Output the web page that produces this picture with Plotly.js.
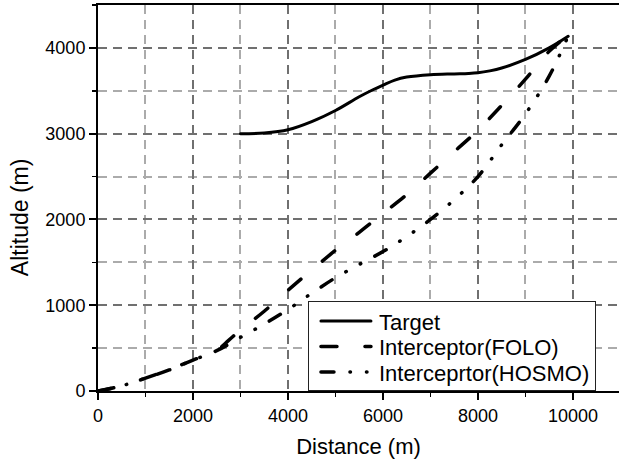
<!DOCTYPE html>
<html>
<head>
<meta charset="utf-8">
<script src="https://cdn.plot.ly/plotly-3.0.1.min.js"></script>
<style>
html,body{margin:0;padding:0;background:#fff;}
#chart{width:619px;height:463px;}
#chart path.js-line{stroke-linecap:round;stroke-linejoin:round;}
</style>
</head>
<body>
<div id="chart"></div>
<script>
// Data
const seriesNames = ["Target", "Interceptor(FOLO)", "Interceprtor(HOSMO)"];

const targetX = [3000,3500,4000,4500,5000,5500,5800,6000,6250,6500,7000,7500,7800,8000,8250,8500,9000,9500,9900];
const targetY = [3000,3008,3045,3140,3270,3430,3515,3565,3625,3660,3688,3697,3702,3710,3732,3765,3865,4000,4135];

const foloX = [0,500,1000,1500,2000,2500,2750,3000,3500,4000,4500,5000,5500,6000,6500,7000,7500,8000,8500,9000,9500,9900];
const foloY = [0,60,150,250,360,475,590,712,930,1175,1410,1640,1850,2070,2290,2540,2790,3040,3330,3635,3960,4145];

const hosmoX = [0,500,1000,1500,2000,2500,3000,3500,4000,4500,5000,5500,6000,6500,7000,7500,8000,8500,9000,9500,9900];
const hosmoY = [0,60,150,245,360,470,625,780,950,1140,1320,1475,1625,1800,2000,2230,2500,2870,3230,3670,4140];

const xTicks = [0,2000,4000,6000,8000,10000];
const yTicks = [0,1000,2000,3000,4000];
const xTitle = "Distance (m)";
const yTitle = "Altitude (m)";

const FONT = "Liberation Sans, Arial, sans-serif";

const traces = [
  {x: targetX, y: targetY, name: seriesNames[0], mode: "lines",
   line: {color: "#000", width: 3, shape: "spline", smoothing: 1}},
  {x: foloX, y: foloY, name: seriesNames[1], mode: "lines",
   line: {color: "#000", width: 3.5, dash: "16px,28px", shape: "spline"}},
  {x: hosmoX, y: hosmoY, name: seriesNames[2], mode: "lines",
   line: {color: "#000", width: 3.5, dash: "13px,16px,0.5px,16px,0.5px,16px", shape: "spline"}}
];

const layout = {
  width: 619, height: 463,
  margin: {l: 98, r: 0, t: 5, b: 72},
  paper_bgcolor: "#fff", plot_bgcolor: "#fff",
  font: {family: FONT, size: 18, color: "#000"},
  showlegend: true,
  legend: {
    x: 0.403, y: 0.233, xanchor: "left", yanchor: "top",
    bgcolor: "#fff", bordercolor: "#222", borderwidth: 1,
    font: {family: FONT, size: 22, color: "#000"},
    itemwidth: 60,
    tracegroupgap: 0
  },
  annotations: [
    {text: yTitle, xref: "paper", yref: "paper", x: -0.15, y: 0.45,
     xanchor: "center", yanchor: "middle", textangle: -90, showarrow: false,
     font: {family: FONT, size: 23, color: "#000"}}
  ],
  xaxis: {
    range: [0, 10970], tickvals: xTicks, ticktext: xTicks.map(String),
    showline: true, linecolor: "#000", linewidth: 2, mirror: true,
    ticks: "outside", ticklen: 7, tickwidth: 2, tickcolor: "#000",
    showgrid: true, gridcolor: "#707070", gridwidth: 2, griddash: "9px,6px",
    zeroline: false,
    tickfont: {family: FONT, size: 18, color: "#000"},
    title: {text: xTitle, font: {family: FONT, size: 22, color: "#000"}, standoff: 14},
    minor: {dtick: 1000, tick0: 0, ticks: "outside", ticklen: 4, tickwidth: 1.5, tickcolor: "#000",
            showgrid: true, gridcolor: "#ababab", gridwidth: 2, griddash: "9px,6px"}
  },
  yaxis: {
    range: [0, 4500], tickvals: yTicks, ticktext: yTicks.map(String),
    showline: true, linecolor: "#000", linewidth: 2,
    ticks: "outside", ticklen: 7, tickwidth: 2, tickcolor: "#000",
    showgrid: true, gridcolor: "#707070", gridwidth: 2, griddash: "9px,6px",
    zeroline: false,
    tickfont: {family: FONT, size: 18, color: "#000"},
    minor: {dtick: 500, tick0: 0, ticks: "outside", ticklen: 4, tickwidth: 1.5, tickcolor: "#000",
            showgrid: true, gridcolor: "#ababab", gridwidth: 2, griddash: "9px,6px"}
  }
};

Plotly.newPlot("chart", traces, layout, {displayModeBar: false, staticPlot: true}).then(function (gd) {
  // Tighten legend rows and lengthen the legend line samples to match the reference style
  const items = gd.querySelectorAll(".legend .traces");
  const rowGap = 25.5, firstRow = 20;
  items.forEach(function (it, i) {
    const m = /translate\(([-\d.]+)[ ,]+([-\d.]+)\)/.exec(it.getAttribute("transform") || "");
    const tx = m ? parseFloat(m[1]) : 0;
    it.setAttribute("transform", "translate(" + tx + "," + (firstRow + i * rowGap) + ")");
    it.querySelectorAll(".legendlines path").forEach(function (p) {
      p.setAttribute("d", "M12,0h50");
    });
  });
  const bg = gd.querySelector(".legend rect.bg");
  if (bg) bg.setAttribute("height", String(firstRow * 2 + (items.length - 1) * rowGap - 2));
});
</script>
</body>
</html>
